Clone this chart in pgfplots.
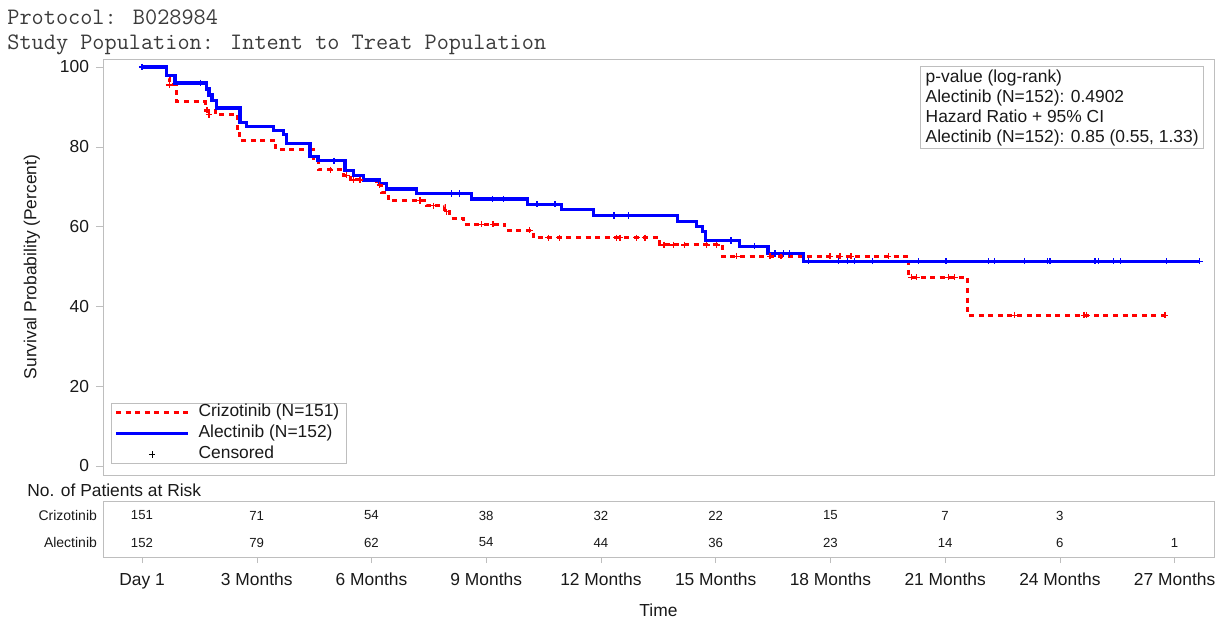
\documentclass[border=0pt]{standalone}
\usepackage{fontspec}
\setmainfont{Liberation Sans}
\usepackage{pgfplots}
\pgfplotsset{compat=1.18}
\usepackage{pgfplotstable}

\definecolor{framegray}{RGB}{190,190,190}
\definecolor{txt}{RGB}{25,25,25}
\definecolor{kmred}{RGB}{255,0,0}
\definecolor{kmblue}{RGB}{0,0,255}

\newcommand{\lblfont}{\fontsize{8.7}{10}\selectfont}
\newcommand{\riskfont}{\fontsize{6.6}{8}\selectfont}
\newcommand{\titlefont}{\ttfamily\fontsize{11.8}{13}\selectfont}

% Kaplan-Meier steps, time in months
\pgfplotstableread{
m s
0 100
0.65 97.2
0.73 95.5
0.91 91.3
1.65 89.2
1.91 88.1
2.50 84.6
2.56 81.5
3.50 79.2
4.48 76.7
4.62 74.2
5.26 72.9
5.44 71.7
6.14 70.4
6.27 68.5
6.44 66.5
7.44 65.2
7.92 63.7
8.05 62.1
8.40 60.6
9.49 59.1
10.23 57.2
13.54 55.4
15.17 52.6
20.05 47.3
21.58 37.8
26.79 37.8
}\crizkm

\pgfplotstableread{
m s
0 100
0.65 97.8
0.86 96.0
1.69 94.5
1.75 93.0
1.83 91.5
1.95 89.7
2.56 86.1
2.74 85.0
3.43 84.0
3.71 83.0
3.78 80.9
4.39 77.5
4.60 76.5
5.31 74.0
5.52 72.9
5.79 71.7
6.22 70.7
6.40 69.4
7.18 68.3
8.62 66.9
10.09 65.6
10.97 64.3
11.80 62.8
14.00 61.2
14.50 60.0
14.66 58.7
14.73 56.5
15.63 55.1
16.37 53.3
17.29 51.3
27.66 51.3
}\aleckm

% censored
\pgfplotstableread{
m s
0.71 95.5
1.70 89.2
1.75 88.1
4.92 74.2
5.35 72.9
5.52 71.7
5.70 71.7
6.22 70.4
7.27 66.5
7.62 65.2
7.97 63.7
8.88 60.6
9.18 60.6
10.14 59.1
10.62 57.2
10.91 57.2
12.41 57.2
12.50 57.2
12.93 57.2
13.15 57.2
13.65 55.4
13.89 55.4
14.18 55.4
14.76 55.4
15.02 55.4
15.55 52.6
16.42 52.6
16.71 52.6
17.99 52.6
18.25 52.6
18.54 52.6
19.51 52.6
20.12 47.3
20.25 47.3
21.08 47.3
21.25 47.3
22.82 37.8
24.63 37.8
24.70 37.8
26.75 37.8
}\crizcens

\pgfplotstableread{
m s
0 100
1.52 96.0
5.02 76.5
8.10 68.3
8.30 68.3
9.17 66.9
9.45 66.9
10.33 65.6
10.80 65.6
12.34 62.8
12.73 62.8
15.40 56.5
16.01 55.1
16.55 53.3
16.77 53.3
16.94 53.3
17.42 51.3
18.22 51.3
18.44 51.3
18.64 51.3
19.10 51.3
20.30 51.3
21.02 51.3
22.13 51.3
22.28 51.3
23.07 51.3
23.68 51.3
23.74 51.3
24.92 51.3
25.00 51.3
25.41 51.3
25.59 51.3
26.79 51.3
27.66 51.3
}\aleccens

% patients at risk
\pgfplotstableread{
m y n
0 41.5 151
3 41.5 71
6 41.5 54
9 41.5 38
12 41.5 32
15 41.5 22
18 41.5 15
21 41.5 7
24 41.5 3
}\crizrisk

\pgfplotstableread{
m y n
0 14.5 152
3 14.5 79
6 14.5 62
9 14.5 54
12 14.5 44
15 14.5 36
18 14.5 23
21 14.5 14
24 14.5 6
27 14.5 1
}\alecrisk

\begin{document}
\begin{tikzpicture}
\begin{axis}[
    name=main,
    at={(0,0)}, anchor=south west,
    scale only axis,
    width=555.5pt, height=208pt,
    xmin=-1.02, xmax=28.03,
    ymin=-2.26, ymax=102.0,
    axis line style={framegray},
    xtick=\empty,
    ytick={0,20,...,100},
    ytick pos=left,
    tick align=outside,
    major tick length=3.5pt,
    tick style={framegray},
    /pgf/number format/assume math mode=true,
    yticklabel style={font=\lblfont, text=txt},
    clip mode=individual,
    legend style={at={(0.0072,0.0264)}, anchor=south west,
        draw=framegray, fill=white, font=\lblfont, text=txt,
        inner xsep=1.5pt, inner ysep=0pt, row sep=1.2pt,
        nodes={inner ysep=0.5pt, text depth=2.2pt, text height=6pt}},
    legend cell align=left,
    legend image code/.code={\draw[#1] (0pt,0pt) -- (36pt,0pt); \path (38.5pt,0pt);},
]
\addplot[const plot, kmred, line width=1.5pt, dash pattern=on 2.5pt off 2.3pt]
    table[x=m, y=s] {\crizkm};
\addlegendentry{Crizotinib (N=151)}
\addplot[const plot, kmblue, line width=1.6pt]
    table[x=m, y=s] {\aleckm};
\addlegendentry{Alectinib (N=152)}
\addplot[only marks, mark=+, mark size=1.6pt, kmred, mark options={line width=0.6pt}, forget plot]
    table[x=m, y=s] {\crizcens};
\addplot[only marks, mark=+, mark size=1.6pt, kmblue, mark options={line width=0.6pt}, forget plot]
    table[x=m, y=s] {\aleccens};
\addlegendimage{legend image code/.code={\draw[black, line width=0.5pt] plot[mark=+, mark size=1.6pt] coordinates {(18pt,0pt)}; \path (0pt,0pt) (38.5pt,0pt);}}
\addlegendentry{Censored}

\node[anchor=north east, draw=framegray, fill=white, align=left, font=\lblfont, text=txt,
      inner xsep=2.5pt, inner ysep=1.5pt]
    at ([xshift=-5pt, yshift=-3.5pt]rel axis cs:1,1)
    {p-value (log-rank)\\ Alectinib (N=152): 0.4902\\ Hazard Ratio + 95\% CI\\ Alectinib (N=152): 0.85 (0.55, 1.33)};
\end{axis}

\begin{axis}[
    name=risk,
    at={(0,-13pt)}, anchor=north west,
    scale only axis,
    width=555.5pt, height=28pt,
    xmin=-1.02, xmax=28.03,
    ymin=0, ymax=56,
    axis line style={framegray},
    xtick={0,3,6,9,12,15,18,21,24,27},
    xticklabels={Day 1,3 Months,6 Months,9 Months,12 Months,15 Months,18 Months,21 Months,24 Months,27 Months},
    xtick pos=bottom,
    ytick pos=left,
    tick align=outside,
    major tick length=3pt,
    x tick style={framegray},
    y tick style={draw=none},
    ytick={14.5,41.5},
    yticklabels={Alectinib,Crizotinib},
    xticklabel style={font=\lblfont, text=txt, yshift=-1.5pt},
    yticklabel style={font=\fontsize{7}{8}\selectfont, text=txt, xshift=3.5pt},
    xlabel={Time},
    xlabel style={font=\lblfont, text=txt, at={(axis description cs:0.5,0)}, anchor=center, yshift=-26.5pt},
    clip=false,
]
\addplot[only marks, mark=none, nodes near coords, point meta=explicit symbolic,
    every node near coord/.append style={anchor=center, font=\riskfont, text=txt}]
    table[x=m, y=y, meta=n] {\crizrisk};
\addplot[only marks, mark=none, nodes near coords, point meta=explicit symbolic,
    every node near coord/.append style={anchor=center, font=\riskfont, text=txt}]
    table[x=m, y=y, meta=n] {\alecrisk};
\end{axis}

% titles and outer labels
\node[anchor=base west, font=\titlefont, text=txt!85, inner sep=0pt]
    at (-48pt,225.5pt) {Protocol: B028984};
\node[anchor=base west, font=\titlefont, text=txt!85, inner sep=0pt]
    at (-48pt,213pt) {Study Population: Intent to Treat Population};
\node[rotate=90, font=\lblfont, text=txt] at (-35.5pt,104pt) {Survival Probability (Percent)};
\node[anchor=west, font=\lblfont, text=txt, inner sep=0pt] at (-38pt,-7.5pt) {No. of Patients at Risk};

\pgfresetboundingbox
\useasboundingbox (-51.5pt,-71pt) rectangle (556.5pt,237.5pt);
\end{tikzpicture}
\end{document}
